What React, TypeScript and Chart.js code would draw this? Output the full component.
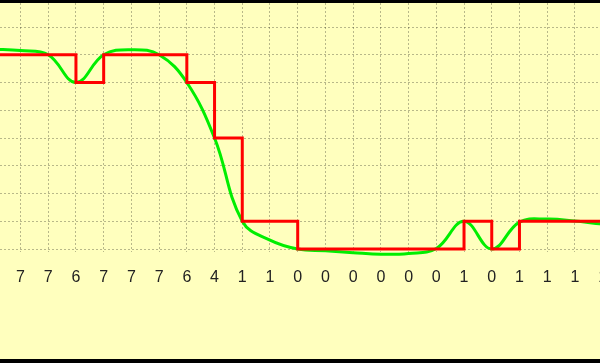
import React, { useEffect, useRef } from "react";
import { Chart, registerables } from "chart.js";

Chart.register(...registerables);

// sample positions (category index) – -1 and 22 lie just outside the visible window
const positions = [-1, 0, 1, 2, 3, 4, 5, 6, 7, 8, 9, 10, 11, 12, 13, 14, 15, 16, 17, 18, 19, 20, 21, 22];
// quantized (red, stepped) values
const quantized = [7, 7, 7, 6, 7, 7, 7, 6, 4, 1, 1, 0, 0, 0, 0, 0, 0, 1, 0, 1, 1, 1, 1, 1];
// smooth signal (green) values
const signal = [7.2, 7.15, 7.0, 6.0, 7.0, 7.18, 7.0, 6.0, 4.0, 1.0, 0.32, 0.0, -0.06, -0.13, -0.19, -0.16, 0.02, 1.0, 0.0, 0.97, 1.08, 1.01, 0.9, 0.85];
// x tick labels
const tickLabels = ["7", "7", "7", "6", "7", "7", "7", "6", "4", "1", "1", "0", "0", "0", "0", "0", "0", "1", "0", "1", "1", "1", "1", "1"];
// horizontal grid levels
const yTicks = [0, 1, 2, 3, 4, 5, 6, 7, 8];

const X_MIN = -0.74;
const X_MAX = 23.07;
const Y_MIN = -0.1;
const Y_MAX = 8.865;

const GRID = "rgba(0,0,0,0.28)";
const gridColor = (ctx: any) =>
  ctx.tick && Number.isInteger(ctx.tick.value) ? GRID : "rgba(0,0,0,0)";

export default function App() {
  const ref = useRef<HTMLCanvasElement | null>(null);

  useEffect(() => {
    if (!ref.current) return;
    const chart = new Chart(ref.current, {
      type: "line",
      data: {
        datasets: [
          {
            label: "Quantized",
            data: positions.map((x, i) => ({ x, y: quantized[i] })),
            borderColor: "#ff0000",
            borderWidth: 3,
            stepped: true,
            pointRadius: 0,
            fill: false,
            clip: false as any,
          },
          {
            label: "Signal",
            data: positions.map((x, i) => ({ x, y: signal[i] })),
            borderColor: "#00ee00",
            borderWidth: 3,
            tension: 0.4,
            pointRadius: 0,
            fill: false,
            clip: false as any,
          },
        ],
      },
      options: {
        responsive: false,
        animation: false,
        events: [],
        layout: { padding: { left: 0, right: 0, top: 0, bottom: 56 } },
        plugins: { legend: { display: false }, tooltip: { enabled: false } },
        scales: {
          x: {
            type: "linear",
            min: X_MIN,
            max: X_MAX,
            afterBuildTicks: (s: any) => {
              s.ticks = positions
                .filter((p) => p >= s.min && p <= s.max)
                .map((v) => ({ value: v }));
            },
            ticks: {
              autoSkip: false,
              maxRotation: 0,
              padding: 16,
              color: "#222222",
              font: { family: "Arial, 'Liberation Sans', sans-serif", size: 16 },
              callback: (v: any) => {
                const i = positions.indexOf(Number(v));
                return i >= 0 ? tickLabels[i] : "";
              },
            },
            grid: { color: gridColor, lineWidth: 1, drawTicks: false },
            border: { display: false, dash: [2, 2] },
          },
          y: {
            type: "linear",
            min: Y_MIN,
            max: Y_MAX,
            afterBuildTicks: (s: any) => {
              s.ticks = yTicks.map((v) => ({ value: v }));
            },
            ticks: { display: false },
            grid: { color: gridColor, lineWidth: 1, drawTicks: false },
            border: { display: false, dash: [2, 2] },
          },
        },
      },
    });
    return () => chart.destroy();
  }, []);

  return (
    <div
      style={{
        position: "fixed",
        left: 0,
        top: 0,
        width: 600,
        height: 363,
        background: "#000",
        overflow: "hidden",
      }}
    >
      <div
        style={{
          position: "absolute",
          left: 0,
          top: 3,
          width: 600,
          height: 356,
          background: "#ffffbe",
          overflow: "hidden",
        }}
      >
        <canvas ref={ref} width={660} height={356} style={{ display: "block" }} />
      </div>
    </div>
  );
}
